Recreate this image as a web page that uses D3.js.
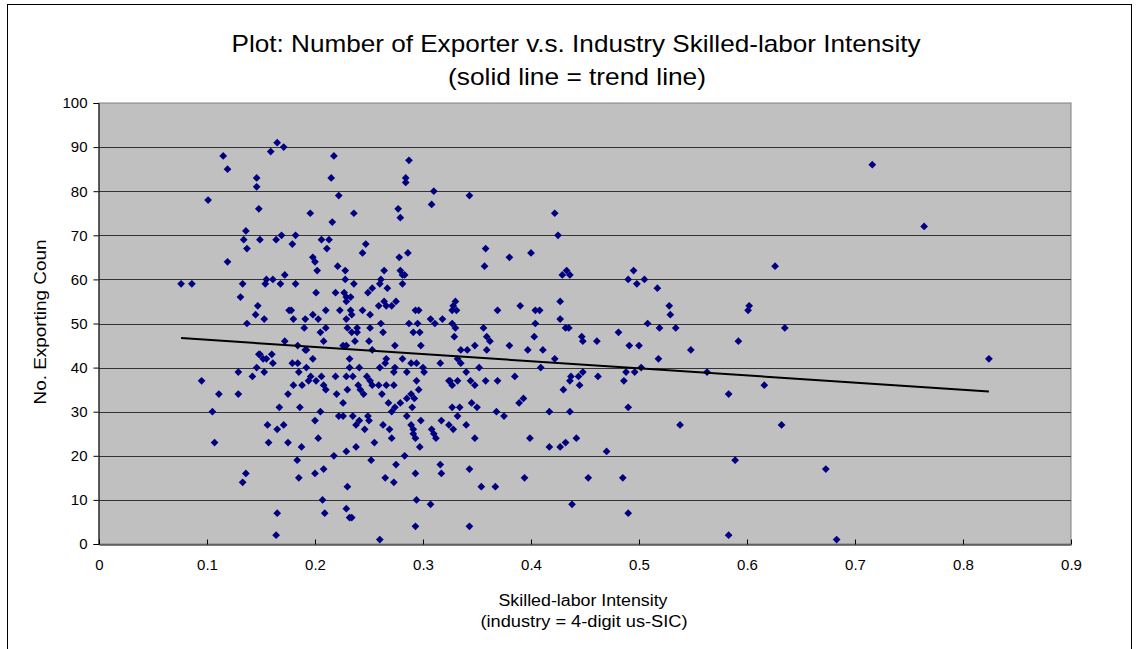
<!DOCTYPE html>
<html>
<head>
<meta charset="utf-8">
<script src="https://cdn.jsdelivr.net/npm/d3@7"></script>
<style>
  html, body { margin: 0; padding: 0; background: #fff; }
  svg text { font-family: "Liberation Sans", Arial, sans-serif; fill: #000; }
</style>
</head>
<body>
<svg id="chart" width="1137" height="649"></svg>
<script>
// Skilled-labor intensity (x) of each 4-digit SIC industry
const intensity = [
  0.076,0.086,0.095,0.101,0.105,0.107,0.111,0.115,0.119,0.119,0.129,0.129,0.131,0.133,0.133,0.134,0.136,0.136,0.137,0.137,
  0.142,0.145,0.146,0.146,0.146,0.147,0.148,0.148,0.149,
  0.159,0.165,0.171,0.2175,0.215,0.222,0.1956,0.236,0.216,0.164,0.169,0.182,0.179,0.206,0.213,0.211,0.198,0.2,0.202,0.221,
  0.228,0.236,0.228,0.155,0.161,0.154,0.172,0.168,0.182,0.201,0.219,0.227,0.229,0.229,0.233,0.153,0.176,0.178,0.18,0.191,
  0.198,0.203,0.21,0.223,0.233,0.234,0.19,0.21,0.229,0.23,
  0.205,0.234,0.208,0.172,0.184,0.191,0.192,0.226,0.229,0.149,0.152,0.16,0.155,0.161,0.179,0.184,0.198,0.232,0.153,0.185,
  0.192,0.232,0.196,0.206,0.219,0.229,0.235,0.194,0.201,0.208,0.18,0.188,0.21,0.23,0.22,0.175,0.226,0.167,0.186,0.205,
  0.222,0.226,0.235,0.2,0.156,0.165,0.171,0.203,0.157,0.175,0.1875,0.229,0.2175,0.1835,0.208,0.2,0.185,0.23,0.207,0.229,
  0.209,0.165,0.232,0.234,0.164,
  0.287,0.284,0.284,0.31,0.308,0.277,0.279,0.247,0.244,0.278,0.286,0.264,0.279,0.281,0.283,0.261,0.26,0.267,0.281,0.253,
  0.249,0.264,0.275,0.259,0.266,0.271,0.244,0.251,0.293,0.296,0.307,0.318,0.311,0.261,0.287,0.295,0.239,0.251,
  0.239,0.263,0.291,0.297,0.237,0.25,0.253,0.274,0.298,0.241,0.26,0.265,0.266,0.274,0.281,0.289,0.294,0.3,0.301,0.316,
  0.273,0.285,0.248,0.251,0.253,0.24,0.242,0.245,0.259,0.266,0.273,0.294,0.262,0.296,0.324,0.289,0.292,0.285,0.279,0.268,
  0.274,0.271,0.29,0.241,0.238,0.249,0.25,0.246,0.263,0.269,0.285,0.289,0.291,0.298,0.291,0.293,0.271,0.308,0.31,0.312,
  0.317,0.324,0.297,0.238,0.255,0.283,0.252,0.275,0.316,0.293,0.317,0.265,0.273,0.294,0.307,0.293,0.26,
  0.343,0.422,0.425,0.358,0.357,0.38,0.4,0.33,0.328,0.331,0.327,0.369,0.39,0.404,0.408,0.427,0.327,0.33,0.356,0.404,
  0.427,0.329,0.359,0.362,0.403,0.335,0.341,0.348,0.359,0.38,0.397,0.411,0.422,0.332,0.335,0.352,0.409,0.34,0.325,0.327,
  0.332,0.344,0.348,0.358,0.369,0.385,0.43,0.393,0.389,0.345,0.35,0.327,0.334,0.332,0.368,0.375,0.417,0.328,0.34,0.348,
  0.399,0.417,0.343,0.394,0.354,0.367,0.343,
  0.429,0.433,0.436,0.495,0.49,0.498,0.505,0.517,0.432,0.435,0.528,0.529,0.508,0.519,0.534,0.481,0.447,0.448,0.461,0.491,
  0.5,0.548,0.518,0.502,0.488,0.496,0.563,0.437,0.444,0.448,0.436,0.486,0.462,0.445,0.436,0.49,0.538,0.427,0.432,0.442,
  0.47,0.453,0.485,0.438,0.49,
  0.716,0.764,0.626,0.602,0.601,0.635,0.592,0.824,0.583,0.616,0.632,0.589,0.673,0.583,0.683
];

// Number of exporting countries for the same industries
const exporters = [
  59,59,37,78,30,23,34,88,85,64,39,34,56,59,14,69,71,16,67,50,
  38,52,83,81,40,54,76,43,69,
  89,91,90,88,83,79,75,75,73,69,70,70,68,69,69,67,65,64,62,63,
  62,59,60,60,60,59,61,59,59,57,57,57,56,55,56,51,53,53,51,51,
  52,51,53,53,53,52,49,49,51,49,
  48,48,46,46,45,44,44,45,45,43,42,43,42,41,41,41,42,42,39,39,
  40,40,38,38,38,38,38,37,37,36,36,36,35,35,34,34,32,31,31,30,
  29,29,29,28,27,26,27,24,23,23,22,21,20,19,17,16,15,13,10,8,
  7,7,6,6,2,
  87,83,82,80,77,76,74,68,66,65,66,62,62,61,61,60,59,58,59,58,
  57,55,55,54,54,54,53,52,53,53,51,51,50,50,50,50,49,49,
  48,48,48,48,46,46,44,45,45,40,40,41,42,40,42,41,41,40,39,41,
  39,39,38,37,36,36,35,34,36,36,36,37,34,35,37,34,33,33,32,32,
  31,30,31,28,27,29,28,26,27,26,29,27,26,28,25,24,24,26,25,24,
  28,27,22,22,23,20,19,18,18,16,16,15,14,10,9,4,1,
  79,75,70,67,63,65,66,55,54,53,53,53,54,53,53,55,50,49,49,50,
  51,47,47,46,47,44,44,45,44,45,44,44,42,42,41,40,40,39,37,36,
  37,37,36,37,37,38,35,33,32,32,31,31,31,29,30,29,30,26,27,24,
  24,22,17,15,13,13,4,
  61,62,61,62,60,59,60,58,49,49,54,52,50,49,49,48,47,46,46,45,
  45,44,42,40,39,39,39,38,38,39,37,37,38,36,30,31,27,22,23,24,
  21,15,15,9,7,
  86,72,63,54,53,49,46,42,34,36,27,19,17,2,1
];

// Axis tick values
const xTicks = [0, 0.1, 0.2, 0.3, 0.4, 0.5, 0.6, 0.7, 0.8, 0.9];
const yTicks = [0, 10, 20, 30, 40, 50, 60, 70, 80, 90, 100];

const titleLines = ["Plot: Number of Exporter v.s. Industry Skilled-labor Intensity", "(solid line = trend line)"];
const xTitleLines = ["Skilled-labor Intensity", "(industry = 4-digit us-SIC)"];
const yTitle = "No. Exporting Coun";

const svg = d3.select("#chart");
const W = 1137, H = 649;
const plot = { left: 99, top: 103, right: 1071, bottom: 544 };

// outer chart frame
svg.append("rect").attr("x", 0).attr("y", 0).attr("width", W).attr("height", H).attr("fill", "#fff");
svg.append("rect")
  .attr("x", 7.5).attr("y", 4.5).attr("width", 1124).attr("height", 700)
  .attr("fill", "none").attr("stroke", "#000").attr("stroke-width", 1);

const x = d3.scaleLinear().domain([0, 0.9]).range([plot.left, plot.right]);
const y = d3.scaleLinear().domain([0, 100]).range([plot.bottom, plot.top]);

// plot background
svg.append("rect")
  .attr("x", plot.left).attr("y", plot.top)
  .attr("width", plot.right - plot.left).attr("height", plot.bottom - plot.top)
  .attr("fill", "#c0c0c0").attr("stroke", "#808080").attr("stroke-width", 1);

// horizontal gridlines
svg.append("g").selectAll("line")
  .data(yTicks.filter(d => d > 0 && d < 100))
  .join("line")
  .attr("x1", plot.left).attr("x2", plot.right)
  .attr("y1", d => Math.round(y(d)) + 0.5).attr("y2", d => Math.round(y(d)) + 0.5)
  .attr("stroke", "#333").attr("stroke-width", 1);

// y axis
const yAxis = svg.append("g")
  .attr("transform", `translate(${plot.left - 0.5},0)`)
  .call(d3.axisLeft(y).tickValues(yTicks).tickSize(5).tickPadding(6).tickFormat(d3.format("d")));
yAxis.select(".domain").attr("stroke", "#000");
yAxis.selectAll(".tick line").attr("stroke", "#000");
yAxis.selectAll("text").attr("font-size", 15).attr("font-family", "Liberation Sans, Arial, sans-serif");

// x axis with inward ticks
const xAxis = svg.append("g")
  .attr("transform", `translate(0,${plot.bottom + 0.5})`)
  .call(d3.axisBottom(x).tickValues(xTicks).tickSizeInner(-5).tickSizeOuter(0).tickPadding(15)
    .tickFormat(d => d === 0 ? "0" : d3.format(".1f")(d)));
xAxis.select(".domain").attr("stroke", "#000");
xAxis.selectAll(".tick line").attr("stroke", "#000");
xAxis.selectAll("text").attr("font-size", 15).attr("font-family", "Liberation Sans, Arial, sans-serif");

// scatter markers (diamonds)
const pts = intensity.map((v, i) => ({ x: v, y: exporters[i] }));
const diamond = d3.symbol().type(d3.symbolSquare).size(30);
svg.append("g").selectAll("path")
  .data(pts)
  .join("path")
  .attr("d", diamond)
  .attr("transform", d => `translate(${x(d.x)},${y(d.y)}) rotate(45)`)
  .attr("fill", "#000080");

// least-squares trend line over the data range
const mx = d3.mean(pts, d => d.x), my = d3.mean(pts, d => d.y);
const slope = d3.sum(pts, d => (d.x - mx) * (d.y - my)) / d3.sum(pts, d => (d.x - mx) ** 2);
const icpt = my - slope * mx;
const [x0, x1] = d3.extent(pts, d => d.x);
svg.append("line")
  .attr("x1", x(x0)).attr("y1", y(icpt + slope * x0))
  .attr("x2", x(x1)).attr("y2", y(icpt + slope * x1))
  .attr("stroke", "#000").attr("stroke-width", 2);

// helper for text fitted to a given width
function label(px, py, str, size, len, rotate) {
  const t = svg.append("text")
    .attr("text-anchor", "middle").attr("font-size", size)
    .attr("textLength", len).attr("lengthAdjust", "spacingAndGlyphs")
    .text(str);
  if (rotate) t.attr("transform", `translate(${px},${py}) rotate(-90)`);
  else t.attr("x", px).attr("y", py);
  return t;
}

// titles
label(576, 52, titleLines[0], 24, 689);
label(577, 85, titleLines[1], 24, 258);

label(583, 606, xTitleLines[0], 16, 169);
label(584, 627, xTitleLines[1], 16, 207);

label(46, 322, yTitle, 16, 165, true);
</script>
</body>
</html>
